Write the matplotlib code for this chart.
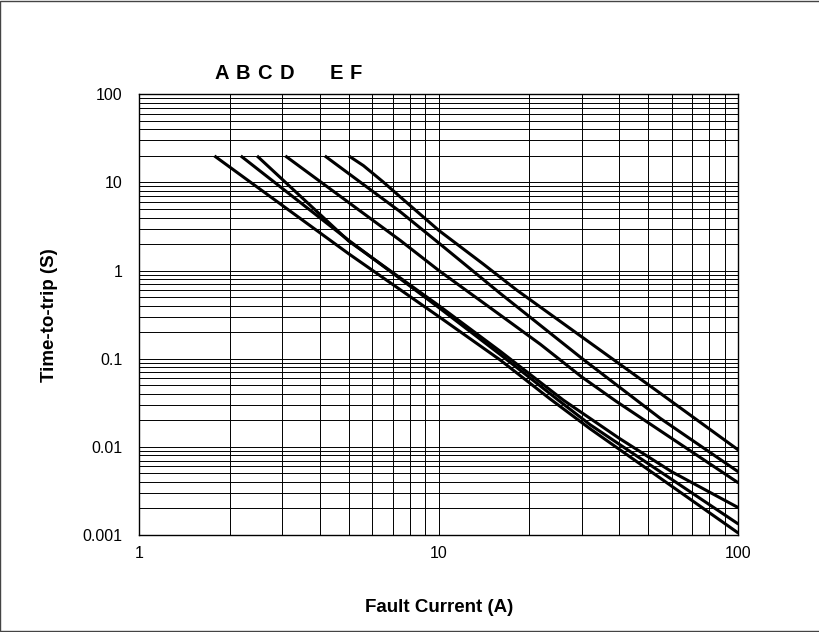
import matplotlib
matplotlib.use("Agg")
import matplotlib.pyplot as plt
from matplotlib.ticker import LogLocator, FixedLocator, FixedFormatter, NullFormatter
from matplotlib.patches import Rectangle

plt.rcParams['font.family'] = ['Liberation Sans', 'DejaVu Sans']

# Curve data (current in A, time in s)
a_x = [1.78, 5.0, 10, 16, 23.5, 32, 100]
a_y = [20, 1.55, 0.30, 0.097, 0.035, 0.016, 0.00105]
b_x = [2.18, 5.0, 10, 16, 25, 32, 100]
b_y = [20, 2.2, 0.38, 0.112, 0.034, 0.0178, 0.00133]
c_x = [2.47, 5.0, 10, 16, 26, 40, 60, 100]
c_y = [20, 2.16, 0.40, 0.122, 0.034, 0.0125, 0.0052, 0.00204]
d_x = [3.07, 7.44, 10, 16, 21.8, 30, 39, 100]
d_y = [20, 2.19, 1.0, 0.314, 0.146, 0.062, 0.033, 0.0039]
e_x = [4.16, 7.4, 10, 16, 30, 54.8, 100]
e_y = [20, 4.7, 2.05, 0.553, 0.101, 0.0211, 0.0052]
f_x = [5.0, 5.6, 6.5, 8, 10, 14, 18.2, 54.8, 100]
f_y = [20, 15.5, 10.2, 5.5, 2.85, 1.2, 0.60, 0.0406, 0.0092]

curve_names = ['A', 'B', 'C', 'D', 'E', 'F']
label_x = [1.877, 2.216, 2.62, 3.11, 4.55, 5.28]
label_y = 171

x_ticks = [1, 10, 100]
x_tick_labels = ['1', '10', '100']
y_ticks = [0.001, 0.01, 0.1, 1, 10, 100]
y_tick_labels = ['0.001', '0.01', '0.1', '1', '10', '100']

fig = plt.figure(figsize=(8.2, 6.32), dpi=100)
ax = fig.add_axes([0.170, 0.1535, 0.7305, 0.6973])
ax.set_xscale('log')
ax.set_yscale('log')
ax.set_xlim(1, 100)
ax.set_ylim(0.001, 100)

for xs, ys in [(a_x, a_y), (b_x, b_y), (c_x, c_y), (d_x, d_y), (e_x, e_y), (f_x, f_y)]:
    ax.plot(xs, ys, color='black', lw=2.2, solid_capstyle='butt',
            solid_joinstyle='round', zorder=3)

ax.xaxis.set_major_locator(FixedLocator(x_ticks))
ax.xaxis.set_major_formatter(FixedFormatter(x_tick_labels))
ax.yaxis.set_major_locator(FixedLocator(y_ticks))
ax.yaxis.set_major_formatter(FixedFormatter(y_tick_labels))
ax.xaxis.set_minor_locator(LogLocator(base=10, subs=range(2, 10)))
ax.yaxis.set_minor_locator(LogLocator(base=10, subs=range(2, 10)))
ax.xaxis.set_minor_formatter(NullFormatter())
ax.yaxis.set_minor_formatter(NullFormatter())

ax.grid(True, which='both', color='black', lw=0.7, zorder=1)
ax.set_axisbelow(True)
ax.tick_params(which='both', length=0)
ax.tick_params(axis='y', pad=12, labelsize=11.5)
ax.tick_params(axis='x', pad=8, labelsize=11.5)
for s in ax.spines.values():
    s.set_color('black')
    s.set_linewidth(1.0)

for name, lx in zip(curve_names, label_x):
    ax.text(lx, label_y, name, ha='center', va='center', fontsize=14.5,
            fontweight='bold', clip_on=False)

ax.set_xlabel('Fault Current (A)', fontsize=13.5, fontweight='bold', labelpad=27)
ax.set_ylabel('Time-to-trip (S)', fontsize=13.5, fontweight='bold', labelpad=18)

fig.patches.append(Rectangle((0.0006, 0.0008), 0.9988, 0.9984, transform=fig.transFigure,
                             fill=False, edgecolor='#444444', lw=1.0))

fig.savefig('out.png', dpi=100)
